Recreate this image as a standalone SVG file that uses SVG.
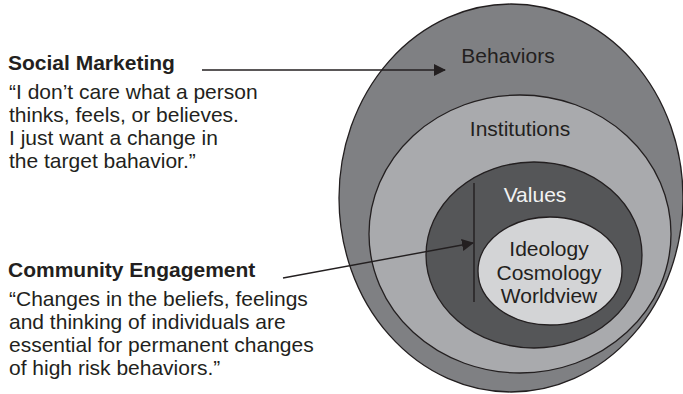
<svg xmlns="http://www.w3.org/2000/svg" width="683" height="394" viewBox="0 0 683 394">
<defs>
<style>
text{font-family:"Liberation Sans",Arial,Helvetica,sans-serif;font-size:21px;fill:#231f20}
.h{font-weight:bold}
.c{text-anchor:middle}
.ring{stroke:#231f20;stroke-width:1.3}
.conn{stroke:#231f20;stroke-width:1.4;fill:none}
</style>
<marker id="ah" viewBox="0 0 12 12" refX="11" refY="6" markerWidth="12" markerHeight="12" markerUnits="userSpaceOnUse" orient="auto">
<path d="M0,0 L12,6 L0,12 Z" fill="#231f20"/>
</marker>
</defs>
<rect width="683" height="394" fill="#ffffff"/>
<g id="behaviors">
<ellipse class="ring" cx="511" cy="198" rx="172" ry="194" fill="#7f8083"/>
<text class="c" x="508" y="63">Behaviors</text>
</g>
<g id="institutions">
<ellipse class="ring" cx="520" cy="234" rx="151" ry="139" fill="#a9aaad"/>
<text class="c" x="520" y="136">Institutions</text>
</g>
<g id="values">
<ellipse class="ring" cx="534" cy="255" rx="108" ry="93" fill="#555658"/>
<text class="c" x="535" y="202" style="fill:#f2f2f2">Values</text>
</g>
<g id="ideology">
<ellipse class="ring" cx="550" cy="271" rx="72" ry="54" fill="#d3d4d6"/>
<text class="c" x="549" y="256">Ideology</text>
<text class="c" x="549" y="280">Cosmology</text>
<text class="c" x="549" y="303">Worldview</text>
</g>
<g id="social-marketing">
<text class="h" x="8" y="70">Social Marketing</text>
<text x="9" y="99">“I don’t care what a person</text>
<text x="9" y="122">thinks, feels, or believes.</text>
<text x="9" y="145">I just want a change in</text>
<text x="9" y="168">the target bahavior.”</text>
</g>
<g id="community-engagement">
<text class="h" x="8" y="277">Community Engagement</text>
<text x="9" y="306">“Changes in the beliefs, feelings</text>
<text x="9" y="329">and thinking of individuals are</text>
<text x="9" y="352">essential for permanent changes</text>
<text x="9" y="375">of high risk behaviors.”</text>
</g>
<g id="connectors">
<line class="conn" x1="202" y1="70" x2="445" y2="70" marker-end="url(#ah)"/>
<line class="conn" x1="474" y1="183" x2="474" y2="302"/>
<line class="conn" x1="283" y1="278" x2="473" y2="243" marker-end="url(#ah)"/>
</g>
</svg>
